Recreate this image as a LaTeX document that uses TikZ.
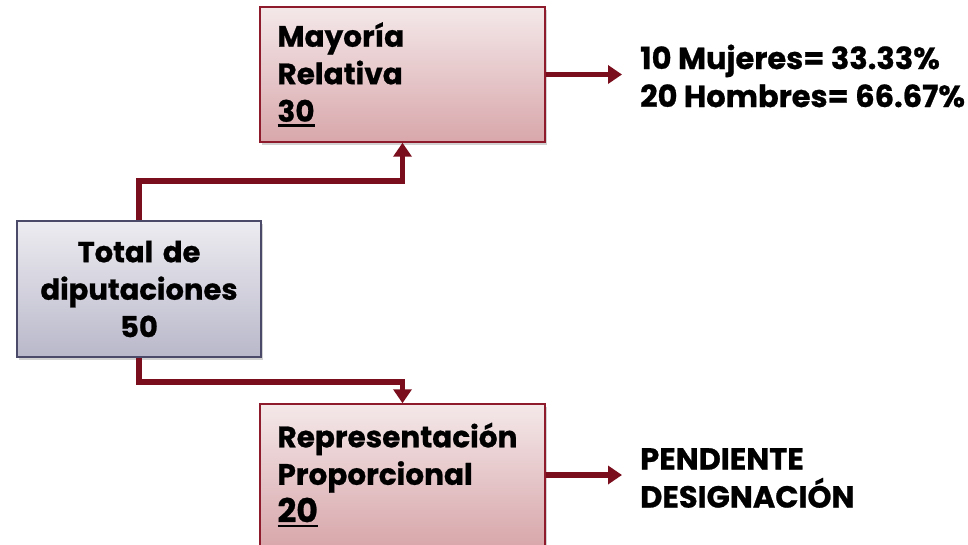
\documentclass[tikz,border=0pt]{standalone}
\usepackage{fontspec}
\setmainfont{Poppins}[BoldFeatures={FakeBold=0.8}]
\usetikzlibrary{arrows.meta,shadows,calc}
\definecolor{conncol}{HTML}{7A0E1C}
\definecolor{redborder}{HTML}{8E1B2B}
\definecolor{pinktop}{HTML}{F4E8E9}
\definecolor{pinkbot}{HTML}{D8A7AB}
\definecolor{graytop}{HTML}{EDECF1}
\definecolor{graybot}{HTML}{B9B8CA}
\definecolor{grayborder}{HTML}{4B4A68}
\newcommand{\ulnum}[1]{\leavevmode\setbox0\hbox{#1}\rlap{\rule[-5pt]{\wd0}{2.6pt}}\box0}
\tikzset{
  pinkbox/.style={draw=redborder, line width=1.5pt, top color=pinktop, bottom color=pinkbot,
    minimum width=285pt, text width=250pt, align=left, inner xsep=17.5pt, inner ysep=0pt,
    drop shadow={shadow xshift=2pt, shadow yshift=-3pt, opacity=0.35},
    font=\fontsize{29.5}{37.5}\selectfont\bfseries},
  graybox/.style={draw=grayborder, line width=1.5pt, top color=graytop, bottom color=graybot,
    minimum width=244pt, minimum height=136pt, text width=236pt, align=center, inner sep=0pt,
    drop shadow={shadow xshift=2pt, shadow yshift=-3pt, opacity=0.35},
    font=\fontsize{29}{37.5}\selectfont\bfseries},
  conn/.style={draw=conncol, line width=5.5pt, -{Triangle[length=14pt,width=18pt]}},
  sidetext/.style={align=left, anchor=west, inner sep=0pt, font=\fontsize{30.5}{38}\selectfont\bfseries}
}
\begin{document}
\begin{tikzpicture}[x=1pt,y=-1pt]
\useasboundingbox[fill=white] (0,0) rectangle (968,545);
\node[pinkbox, minimum height=135pt] (may) at (402.5,74.5) {Mayoría\\Relativa\\\ulnum{30}};
\node[graybox] (tot) at (139,289) {Total de\\diputaciones\\50};
\node[pinkbox, minimum height=142pt] (rp) at (402.5,475) {Representación\\Proporcional\\{\fontsize{33}{37.5}\selectfont\ulnum{20}}};
\node[sidetext] (muj) at (640,76) {10 Mujeres= 33.33\%\\20 Hombres= 66.67\%};
\node[sidetext] (pend) at (640,478) {PENDIENTE\\DESIGNACIÓN};
\coordinate (a1) at (622,74.5);
\coordinate (a2) at (622,475);
\draw[conn] (tot.north) -- ++(0,-39) -| (may.south);
\draw[conn] (tot.south) -- ++(0,24) -| (rp.north);
\draw[conn] (may.east) -- (a1);
\draw[conn] (rp.east) -- (a2);
\end{tikzpicture}
\end{document}
